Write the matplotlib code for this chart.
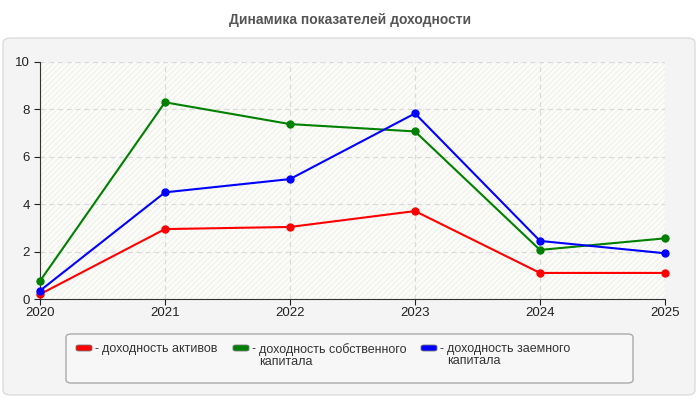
import matplotlib
matplotlib.use("Agg")
import matplotlib.pyplot as plt
from matplotlib.patches import FancyBboxPatch, Rectangle

years = [2020, 2021, 2022, 2023, 2024, 2025]
roa = [0.2, 2.95, 3.04, 3.71, 1.1, 1.1]
roe = [0.76, 8.3, 7.38, 7.07, 2.07, 2.56]
rod = [0.35, 4.5, 5.06, 7.83, 2.45, 1.93]
series_names = ["доходность активов",
                "доходность собственного\nкапитала",
                "доходность заемного\nкапитала"]
series_colors = ["#ff0000", "#008000", "#0000ff"]
title = "Динамика показателей доходности"

plt.rcParams['font.family'] = ['Liberation Sans', 'DejaVu Sans']

fig = plt.figure(figsize=(7, 4), dpi=100)
fig.patch.set_facecolor("white")

# outer grey panel
panel = FancyBboxPatch((3 / 700, 5 / 400), 692 / 700, 357 / 400,
                       boxstyle="round,pad=0,rounding_size=0.012",
                       transform=fig.transFigure, facecolor="#f4f4f4",
                       edgecolor="#dddddd", linewidth=1, zorder=-5)
fig.patches.append(panel)

fig.text(0.5, 1 - 20 / 400, title, ha="center", va="center",
         fontsize=10, fontweight="bold", color="#555555")

ax = fig.add_axes([40 / 700, 1 - 299 / 400, 625 / 700, 237 / 400])
ax.set_zorder(2)
ax.set_facecolor("#fdfdf8")
ax.add_patch(Rectangle((0, 0), 1, 1, transform=ax.transAxes, facecolor="none",
                       edgecolor="#f1f1f1", hatch="//////", linewidth=0, zorder=0))

for vals, col in zip([roa, roe, rod], series_colors):
    ax.plot(years, vals, color=col, linewidth=1.5, marker="o", markersize=5,
            zorder=3, clip_on=False)

ax.set_xlim(2020, 2025)
ax.set_ylim(0, 10)
ax.set_xticks(years)
ax.set_yticks([0, 2, 4, 6, 8, 10])
ax.grid(True, linestyle=(0, (4, 3)), color="#dadada", linewidth=0.9)
ax.set_axisbelow(True)
for s in ["top", "right"]:
    ax.spines[s].set_visible(False)
for s in ["left", "bottom"]:
    ax.spines[s].set_color("#333333")
ax.tick_params(axis="both", labelsize=9.5, colors="#222222", length=4)
ax.tick_params(axis="x", pad=2)

# legend box
leg = FancyBboxPatch((66 / 700, 1 - 383 / 400), 567 / 700, 49 / 400,
                     boxstyle="round,pad=0,rounding_size=0.008",
                     transform=fig.transFigure, facecolor="#f7f7f7",
                     edgecolor="#aaaaaa", linewidth=1, zorder=1)
fig.patches.append(leg)

swatch_x = [76, 233, 421]
for sx, name, col in zip(swatch_x, series_names, series_colors):
    sw = FancyBboxPatch((sx / 700, 1 - 351 / 400), 16 / 700, 6 / 400,
                        boxstyle="round,pad=0,rounding_size=0.004",
                        transform=fig.transFigure, facecolor=col,
                        edgecolor="#777777", linewidth=0.6, zorder=2)
    fig.patches.append(sw)
    fig.text((sx + 19) / 700, 1 - 343 / 400, "-", ha="left", va="top",
             fontsize=9, color="#333333")
    fig.text((sx + 26) / 700, 1 - 343 / 400, name, ha="left", va="top",
             fontsize=9, color="#333333", linespacing=1.05)

fig.savefig("out.png", dpi=100)
